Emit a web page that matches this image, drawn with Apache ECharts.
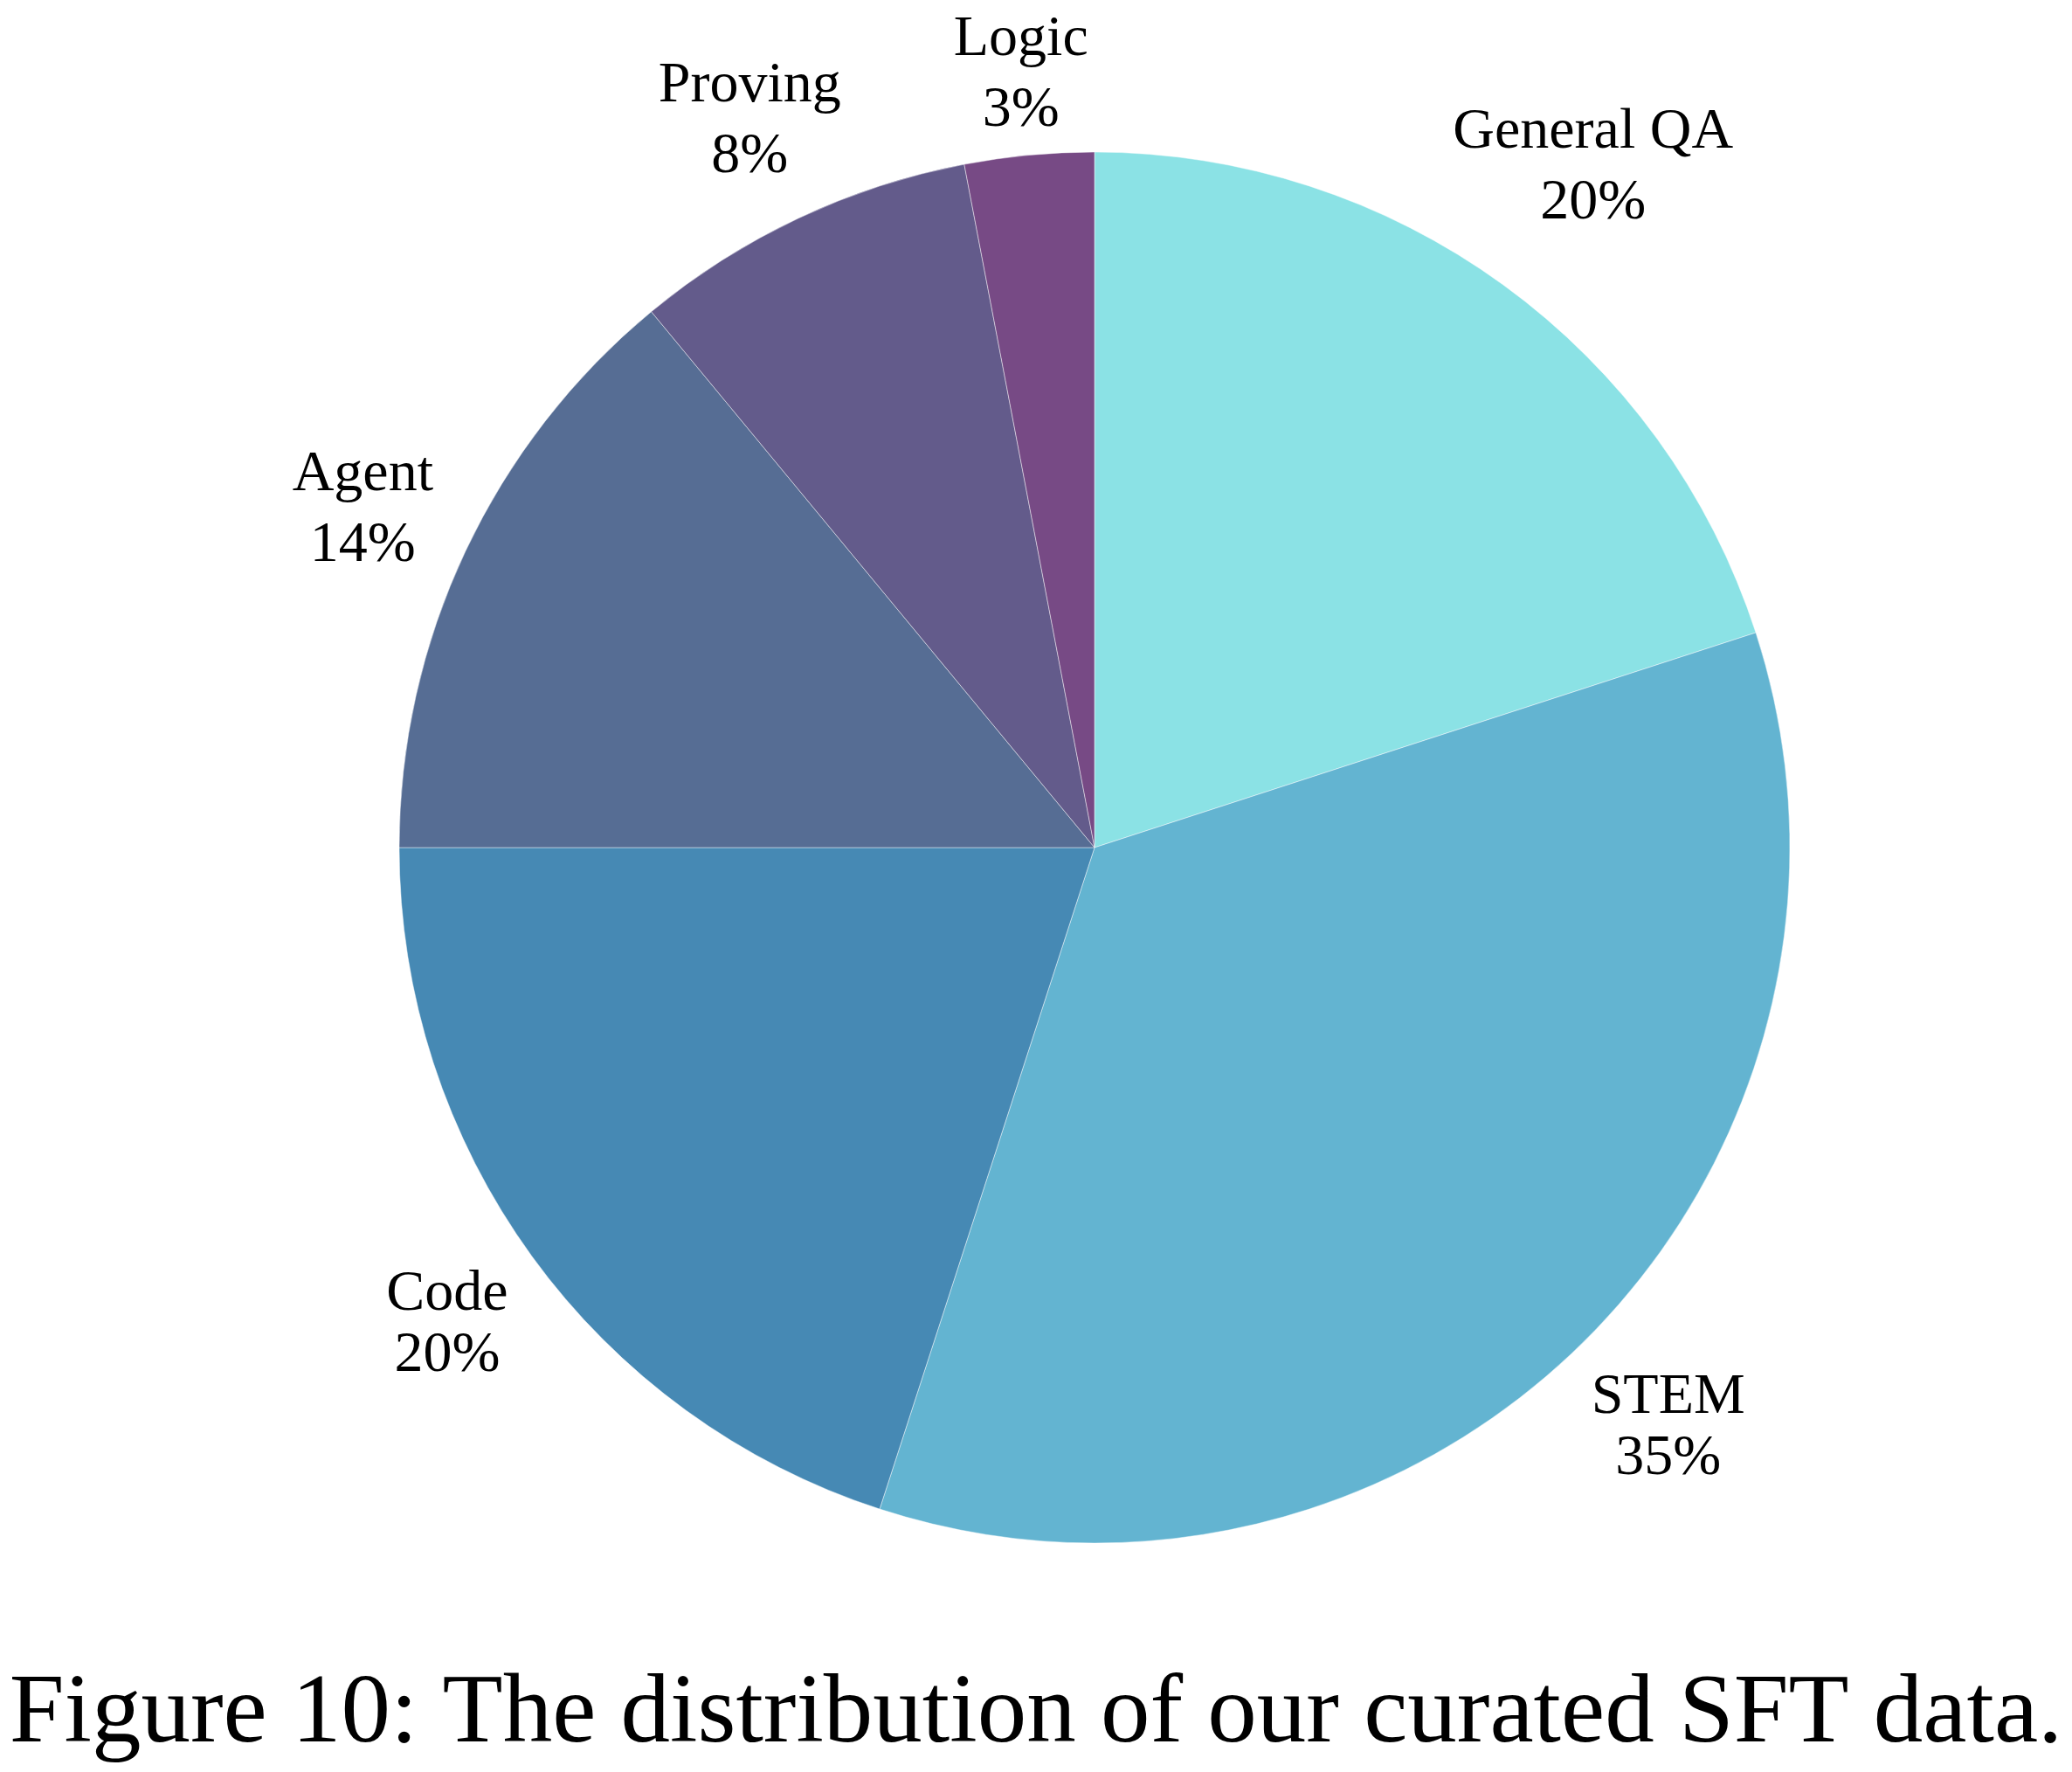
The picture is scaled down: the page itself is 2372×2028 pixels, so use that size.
<!DOCTYPE html>
<html>
<head>
<meta charset="utf-8">
<script src="https://cdn.jsdelivr.net/npm/echarts@6/dist/echarts.min.js"></script>
<style>
  html, body { margin: 0; padding: 0; background: #ffffff; }
  #chart { width: 2372px; height: 2028px; }
</style>
</head>
<body>
<div id="chart"></div>
<script>
const categories = ['General QA', 'STEM', 'Code', 'Agent', 'Proving', 'Logic'];
const values = [20, 35, 20, 14, 8, 3];
const colors = ['#8BE2E5', '#63B4D1', '#4689B4', '#566D94', '#635B8B', '#774A85'];
const captionText = 'Figure 10: The distribution of our curated SFT data.';

const FONT = "'Liberation Serif', 'Times New Roman', serif";
const CX = 1253, CY = 970, R = 796;
const LABEL_SIZE = 66;
const total = values.reduce((a, b) => a + b, 0);

function midAngle(i) {
  let before = 0;
  for (let k = 0; k < i; k++) before += values[k];
  return (before + values[i] / 2) / total * Math.PI * 2;
}

const data = categories.map((name, i) => {
  const lower = Math.cos(midAngle(i)) < 0;
  return {
    name: name,
    value: values[i],
    itemStyle: { color: colors[i] },
    label: { lineHeight: lower ? 70 : 81 }
  };
});

const chart = echarts.init(document.getElementById('chart'), null, { renderer: 'canvas' });
chart.setOption({
  backgroundColor: '#ffffff',
  animation: false,
  title: {
    text: captionText,
    left: 'center',
    top: 1902,
    textStyle: {
      fontFamily: FONT,
      fontSize: 113,
      fontWeight: 'normal',
      color: '#000000',
      lineHeight: 113
    }
  },
  series: [{
    type: 'pie',
    center: [CX, CY],
    radius: R,
    startAngle: 90,
    clockwise: true,
    avoidLabelOverlap: false,
    silent: true,
    itemStyle: {
      borderColor: 'rgba(255,255,255,0.45)',
      borderWidth: 1
    },
    label: {
      show: true,
      position: 'outside',
      fontFamily: FONT,
      fontSize: LABEL_SIZE,
      color: '#000000',
      align: 'center',
      formatter: function (p) { return p.name + '\n' + values[p.dataIndex] + '%'; }
    },
    labelLine: { show: false },
    labelLayout: function (params) {
      const i = params.dataIndex;
      const a = midAngle(i);
      const sx = Math.sin(a), sy = -Math.cos(a);
      const rect = params.labelRect;
      const hw = rect.width / 2;
      const hh = rect.height / 4 + 0.331 * LABEL_SIZE;
      const d = R * 1.038 + hw * Math.abs(sx) + hh * Math.abs(sy);
      return { x: CX + d * sx, y: CY + d * sy + 8, align: 'center', verticalAlign: 'middle' };
    },
    data: data
  }]
});
</script>
</body>
</html>
